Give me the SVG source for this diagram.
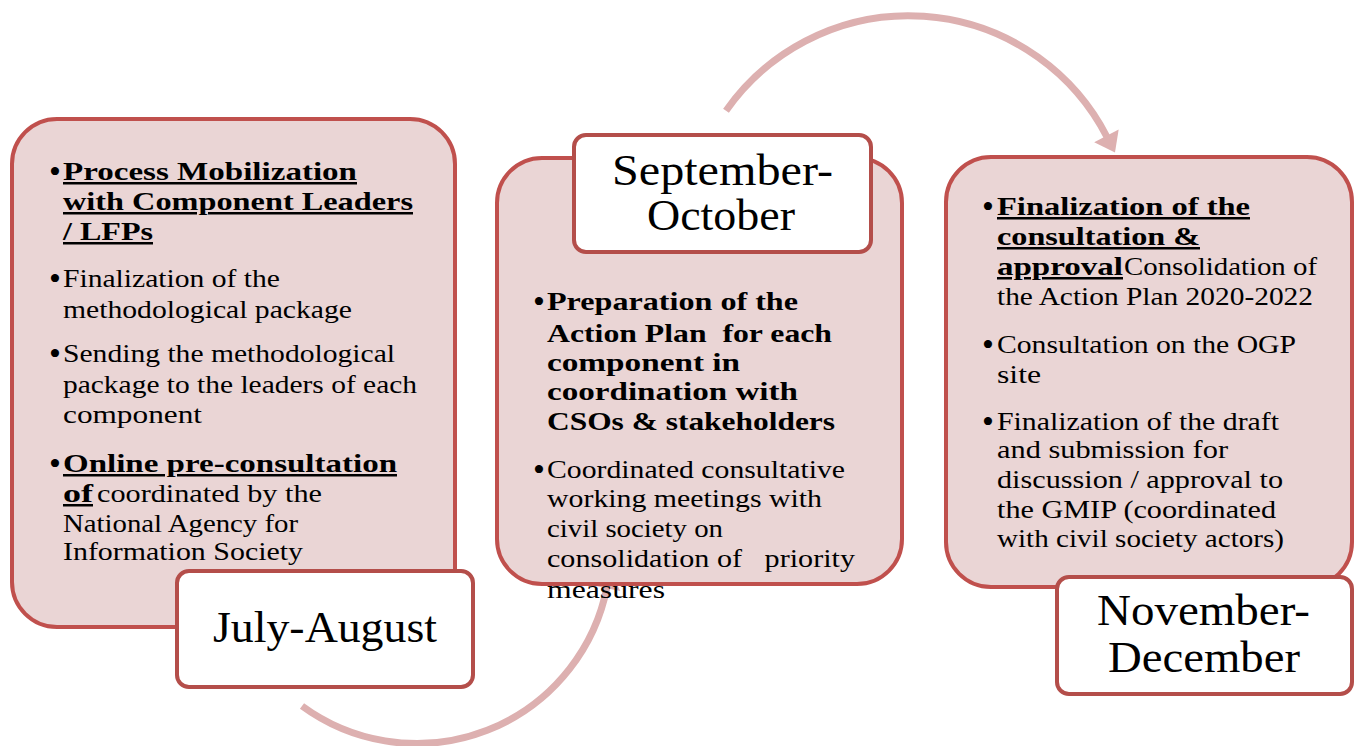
<svg xmlns="http://www.w3.org/2000/svg" width="1359" height="746" viewBox="0 0 1359 746">
<style>
.box{fill:#EAD5D5;stroke:#C0504D;stroke-width:4}
.lbl{fill:#FFFFFF;stroke:#B44E4A;stroke-width:4}
.arc{fill:none;stroke:#DDB0B0;stroke-width:7}
text{font-family:"Liberation Serif","DejaVu Serif",serif;fill:#000;font-size:25px;white-space:pre}
.b{font-weight:bold}
.u{text-decoration:underline}
.big{font-size:45px}
.bul{font-size:34px}
</style>
<defs>
<marker id="ah" markerUnits="userSpaceOnUse" markerWidth="30" markerHeight="30" viewBox="0 -12 16 24" refX="1" refY="0" orient="auto">
<path d="M0,-11 L15,0 L0,11 Z" fill="#DDB0B0"/>
</marker>
</defs>
<g id="connectors">
<path class="arc" d="M726,110.7 A223,223 0 0 1 1107,137" marker-end="url(#ah)"/>
<path class="arc" d="M302,706 A194,194 0 0 0 607,587" marker-end="url(#ah)"/>
</g>
<g id="node-july">
<rect class="box" x="12" y="119" width="443" height="508" rx="45"/>
<text class="bul" x="49" y="183">•</text>
<text class="b u" x="63" y="180" textLength="294" lengthAdjust="spacingAndGlyphs">Process Mobilization</text>
<text class="b u" x="63" y="210" textLength="350" lengthAdjust="spacingAndGlyphs">with Component Leaders</text>
<text class="b u" x="63" y="240" textLength="90" lengthAdjust="spacingAndGlyphs">/ LFPs</text>
<text class="bul" x="49" y="290">•</text>
<text x="63" y="287" textLength="217" lengthAdjust="spacingAndGlyphs">Finalization of the</text>
<text x="63" y="318" textLength="289" lengthAdjust="spacingAndGlyphs">methodological package</text>
<text class="bul" x="49" y="365">•</text>
<text x="63" y="362" textLength="332" lengthAdjust="spacingAndGlyphs">Sending the methodological</text>
<text x="63" y="393" textLength="354" lengthAdjust="spacingAndGlyphs">package to the leaders of each</text>
<text x="63" y="423" textLength="139" lengthAdjust="spacingAndGlyphs">component</text>
<text class="bul" x="49" y="475">•</text>
<text class="b u" x="63" y="472" textLength="334" lengthAdjust="spacingAndGlyphs">Online pre-consultation</text>
<text class="b u" x="63" y="502" textLength="30" lengthAdjust="spacingAndGlyphs">of</text>
<text x="97" y="502" textLength="225" lengthAdjust="spacingAndGlyphs">coordinated by the</text>
<text x="63" y="532" textLength="235" lengthAdjust="spacingAndGlyphs">National Agency for</text>
<text x="63" y="560" textLength="240" lengthAdjust="spacingAndGlyphs">Information Society</text>
<rect class="lbl" x="177" y="571" width="296" height="116" rx="12"/>
<text class="big" x="325" y="642" text-anchor="middle" textLength="224" lengthAdjust="spacingAndGlyphs">July-August</text>
</g>
<g id="node-september">
<rect class="box" x="497" y="158" width="405" height="426" rx="45"/>
<rect class="lbl" x="574" y="135" width="297" height="117" rx="12"/>
<text class="big" x="612" y="185" textLength="221" lengthAdjust="spacingAndGlyphs">September-</text>
<text class="big" x="647" y="230" textLength="148" lengthAdjust="spacingAndGlyphs">October</text>
<text class="bul" x="533" y="313">•</text>
<text class="b" x="547" y="310" textLength="251" lengthAdjust="spacingAndGlyphs">Preparation of the</text>
<text class="b" x="547" y="342" textLength="285" lengthAdjust="spacingAndGlyphs">Action Plan  for each</text>
<text class="b" x="547" y="371" textLength="193" lengthAdjust="spacingAndGlyphs">component in</text>
<text class="b" x="547" y="400" textLength="251" lengthAdjust="spacingAndGlyphs">coordination with</text>
<text class="b" x="547" y="430" textLength="288" lengthAdjust="spacingAndGlyphs">CSOs &amp; stakeholders</text>
<text class="bul" x="533" y="481">•</text>
<text x="547" y="478" textLength="298" lengthAdjust="spacingAndGlyphs">Coordinated consultative</text>
<text x="547" y="507" textLength="275" lengthAdjust="spacingAndGlyphs">working meetings with</text>
<text x="547" y="537" textLength="176" lengthAdjust="spacingAndGlyphs">civil society on</text>
<text x="547" y="567" textLength="308" lengthAdjust="spacingAndGlyphs">consolidation of   priority</text>
<text x="547" y="598" textLength="118" lengthAdjust="spacingAndGlyphs">measures</text>
</g>
<g id="node-november">
<rect class="box" x="946" y="157" width="406" height="430" rx="45"/>
<text class="bul" x="982" y="218">•</text>
<text class="b u" x="997" y="215" textLength="253" lengthAdjust="spacingAndGlyphs">Finalization of the</text>
<text class="b u" x="997" y="245" textLength="203" lengthAdjust="spacingAndGlyphs">consultation &amp;</text>
<text class="b u" x="997" y="275" textLength="126" lengthAdjust="spacingAndGlyphs">approval</text>
<text x="1124" y="275" textLength="193" lengthAdjust="spacingAndGlyphs">Consolidation of</text>
<text x="997" y="305" textLength="316" lengthAdjust="spacingAndGlyphs">the Action Plan 2020-2022</text>
<text class="bul" x="982" y="356">•</text>
<text x="997" y="353" textLength="299" lengthAdjust="spacingAndGlyphs">Consultation on the OGP</text>
<text x="997" y="383" textLength="44" lengthAdjust="spacingAndGlyphs">site</text>
<text class="bul" x="982" y="433">•</text>
<text x="997" y="430" textLength="282" lengthAdjust="spacingAndGlyphs">Finalization of the draft</text>
<text x="997" y="458" textLength="231" lengthAdjust="spacingAndGlyphs">and submission for</text>
<text x="997" y="488" textLength="286" lengthAdjust="spacingAndGlyphs">discussion / approval to</text>
<text x="997" y="518" textLength="279" lengthAdjust="spacingAndGlyphs">the GMIP (coordinated</text>
<text x="997" y="547" textLength="287" lengthAdjust="spacingAndGlyphs">with civil society actors)</text>
<rect class="lbl" x="1057" y="577" width="295" height="117" rx="12"/>
<text class="big" x="1097" y="625" textLength="213" lengthAdjust="spacingAndGlyphs">November-</text>
<text class="big" x="1108" y="672" textLength="192" lengthAdjust="spacingAndGlyphs">December</text>
</g>
</svg>
